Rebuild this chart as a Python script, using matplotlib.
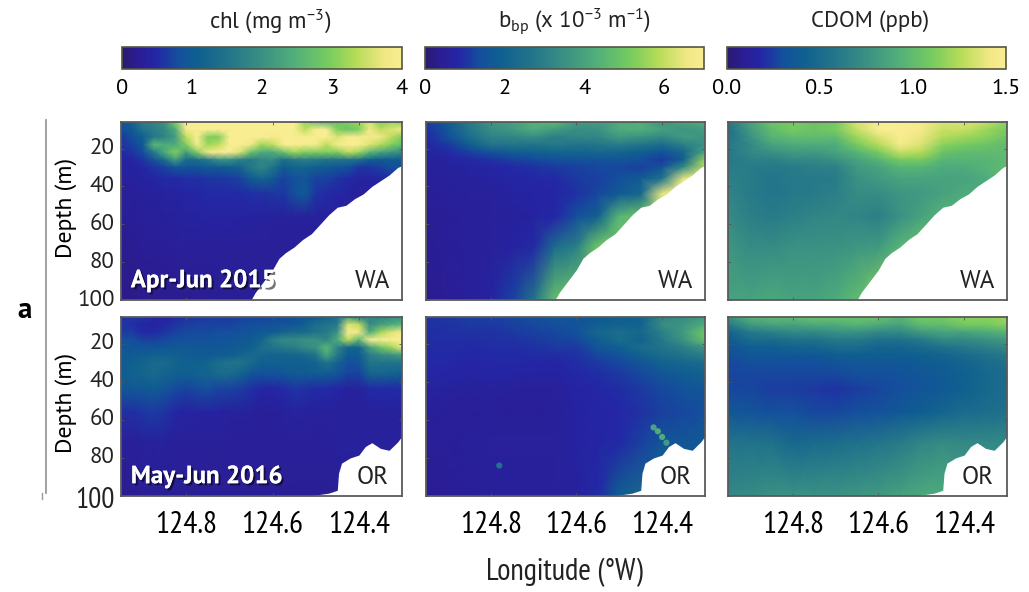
import numpy as np
import matplotlib
matplotlib.use('Agg')
import matplotlib.pyplot as plt
import matplotlib.patheffects as pe
from matplotlib.colors import LinearSegmentedColormap

plt.rcParams['font.family'] = ['PT Sans', 'Open Sans', 'DejaVu Sans']
plt.rcParams['mathtext.fontset'] = 'custom'
plt.rcParams['mathtext.rm'] = 'PT Sans'
plt.rcParams['mathtext.it'] = 'PT Sans'
plt.rcParams['mathtext.bf'] = 'PT Sans:bold'
plt.rcParams['text.color'] = '#222222'
narrow = ['PT Sans Narrow', 'Roboto Condensed', 'Liberation Sans']

# grid of the sections
lon = [124.95, 124.90, 124.85, 124.80, 124.75, 124.70, 124.65,
       124.60, 124.55, 124.50, 124.45, 124.40, 124.35, 124.30]
lon_fine = [124.95, 124.925, 124.90, 124.875, 124.85, 124.825, 124.80, 124.775, 124.75,
            124.725, 124.70, 124.675, 124.65, 124.625, 124.60, 124.575, 124.55, 124.525,
            124.50, 124.475, 124.45, 124.425, 124.40, 124.375, 124.35, 124.325, 124.30]
depth = [6, 10, 14, 18, 22, 26, 30, 36, 44, 56, 72, 100]

chl_wa = [
    [0.8, 1.2, 1.7, 1.8, 2.0, 3.0, 4.0, 4.0, 4.0, 4.0, 4.0, 4.0, 4.0, 4.0, 4.0, 4.0, 4.0, 3.2, 2.8, 2.6, 2.8, 3.0, 3.2, 3.6, 3.0, 3.2, 3.0],
    [0.8, 1.0, 1.5, 1.7, 1.9, 2.4, 3.9, 4.0, 4.0, 4.0, 4.0, 4.0, 4.0, 4.0, 4.0, 4.0, 4.0, 3.4, 4.0, 4.0, 3.0, 2.8, 3.0, 3.8, 3.4, 3.6, 3.8],
    [0.6, 0.8, 1.1, 1.6, 1.8, 2.2, 3.4, 4.0, 3.0, 3.0, 4.0, 4.0, 4.0, 4.0, 3.9, 4.0, 4.0, 4.0, 4.0, 4.0, 3.6, 4.0, 3.9, 3.9, 3.8, 3.4, 3.0],
    [0.6, 0.7, 1.0, 2.6, 2.4, 2.4, 3.0, 3.9, 3.2, 3.4, 4.0, 4.0, 3.8, 3.2, 3.4, 4.0, 4.0, 3.9, 3.9, 3.4, 3.9, 4.0, 4.0, 3.6, 3.3, 3.0, 2.7],
    [0.5, 0.6, 0.8, 1.6, 2.4, 3.0, 2.2, 3.0, 3.8, 4.0, 4.0, 3.6, 2.8, 2.4, 2.4, 2.8, 3.2, 3.0, 3.0, 3.0, 3.0, 3.4, 3.2, 2.6, 2.3, 2.1, 1.9],
    [0.4, 0.45, 0.6, 0.9, 1.4, 2.2, 1.3, 1.4, 1.6, 2.0, 2.0, 1.7, 1.6, 1.8, 1.9, 1.4, 1.6, 1.7, 1.6, 1.5, 1.5, 1.5, 1.4, 1.1, 1.0, 1.0, 1.0],
    [0.35, 0.4, 0.45, 0.6, 0.7, 0.9, 0.9, 0.9, 1.0, 1.0, 1.1, 1.2, 1.6, 1.8, 1.5, 1.0, 1.2, 1.2, 1.1, 1.0, 0.9, 0.8, 0.6, 0.6, 0.7, 0.8, 0.8],
    [0.35, 0.35, 0.4, 0.45, 0.5, 0.5, 0.55, 0.55, 0.6, 0.6, 0.65, 0.7, 1.0, 1.2, 1.0, 0.7, 0.8, 0.9, 0.7, 0.7, 0.6, 0.5, 0.4, 0.4, 0.45, 0.5, 0.5],
    [0.3, 0.3, 0.35, 0.35, 0.4, 0.4, 0.45, 0.45, 0.5, 0.5, 0.5, 0.5, 0.55, 0.55, 0.6, 0.6, 0.8, 1.0, 0.6, 0.5, 0.45, 0.4, 0.35, 0.35, 0.4, 0.4, 0.4],
    [0.25, 0.28, 0.3, 0.32, 0.35, 0.35, 0.4, 0.4, 0.42, 0.42, 0.42, 0.4, 0.4, 0.38, 0.35, 0.35, 0.35, 0.35, 0.35, 0.33, 0.33, 0.33, 0.33, 0.33, 0.33, 0.33, 0.33],
    [0.2, 0.22, 0.25, 0.25, 0.28, 0.3, 0.3, 0.3, 0.3, 0.3, 0.3, 0.3, 0.3, 0.3, 0.3, 0.3, 0.3, 0.3, 0.3, 0.3, 0.3, 0.3, 0.3, 0.3, 0.3, 0.3, 0.3],
    [0.15, 0.15, 0.18, 0.2, 0.2, 0.2, 0.2, 0.22, 0.22, 0.25, 0.25, 0.25, 0.25, 0.25, 0.25, 0.25, 0.25, 0.25, 0.25, 0.25, 0.25, 0.25, 0.25, 0.25, 0.25, 0.25, 0.25],
]
bbp_wa = [
    [1.2, 1.8, 2.8, 3.6, 3.9, 4.4, 4.6, 3.8, 3.8, 4.2, 4.3, 3.6, 4.0, 4.3],
    [1.0, 1.6, 2.7, 3.4, 3.7, 4.2, 3.8, 3.4, 3.5, 4.2, 4.3, 3.9, 3.6, 3.8],
    [0.9, 1.4, 2.4, 3.1, 3.2, 3.4, 3.0, 3.2, 3.2, 3.7, 3.5, 3.3, 3.8, 3.6],
    [0.8, 1.1, 1.9, 2.6, 2.7, 2.6, 2.8, 2.6, 2.7, 2.9, 2.7, 2.4, 3.0, 3.5],
    [0.7, 0.9, 1.2, 1.5, 1.8, 2.0, 2.1, 2.1, 2.2, 2.1, 1.9, 1.5, 2.2, 4.0],
    [0.6, 0.7, 0.9, 1.0, 1.2, 1.3, 1.4, 1.5, 1.5, 1.6, 1.4, 1.1, 2.0, 5.5],
    [0.6, 0.65, 0.75, 0.8, 0.9, 1.0, 1.1, 1.2, 1.3, 1.3, 1.2, 1.6, 3.4, 6.0],
    [0.55, 0.6, 0.65, 0.7, 0.8, 0.85, 0.9, 1.1, 1.2, 1.4, 1.8, 2.6, 6.5, 6.8],
    [0.5, 0.55, 0.6, 0.6, 0.7, 0.75, 0.8, 1.0, 1.3, 1.8, 2.2, 6.5, 7.0, 7.0],
    [0.45, 0.5, 0.55, 0.6, 0.65, 0.7, 0.85, 1.4, 2.0, 4.5, 5.0, 5.0, 5.0, 5.0],
    [0.4, 0.5, 0.55, 0.6, 0.7, 0.9, 2.4, 3.0, 5.0, 5.0, 5.0, 5.0, 5.0, 5.0],
    [0.35, 0.45, 0.55, 0.7, 1.2, 2.6, 4.8, 5.0, 5.0, 5.0, 5.0, 5.0, 5.0, 5.0],
]
cdom_wa = [
    [0.6, 0.85, 1.05, 1.1, 1.05, 1.1, 1.35, 1.5, 1.5, 1.45, 1.35, 1.35, 1.3, 1.15],
    [0.55, 0.8, 1.0, 1.1, 1.05, 1.1, 1.3, 1.5, 1.5, 1.45, 1.3, 1.3, 1.2, 1.1],
    [0.55, 0.75, 0.95, 1.0, 1.0, 1.0, 1.2, 1.35, 1.5, 1.4, 1.25, 1.2, 1.15, 1.05],
    [0.6, 0.7, 0.85, 0.9, 0.9, 0.9, 1.1, 1.25, 1.45, 1.35, 1.15, 1.1, 1.05, 1.0],
    [0.6, 0.7, 0.75, 0.8, 0.8, 0.85, 0.95, 1.1, 1.3, 1.25, 1.05, 1.0, 1.0, 1.0],
    [0.6, 0.65, 0.65, 0.7, 0.7, 0.75, 0.85, 0.95, 1.1, 1.1, 0.95, 0.95, 0.95, 1.0],
    [0.62, 0.62, 0.6, 0.62, 0.65, 0.65, 0.8, 0.85, 0.95, 0.95, 0.9, 0.9, 0.95, 1.0],
    [0.65, 0.62, 0.58, 0.6, 0.6, 0.62, 0.75, 0.8, 0.85, 0.85, 0.85, 0.85, 0.9, 1.0],
    [0.68, 0.62, 0.58, 0.6, 0.62, 0.65, 0.72, 0.72, 0.78, 0.8, 0.85, 0.9, 0.9, 0.9],
    [0.72, 0.65, 0.62, 0.65, 0.68, 0.7, 0.68, 0.65, 0.75, 0.85, 0.95, 0.95, 0.95, 0.95],
    [0.78, 0.72, 0.72, 0.75, 0.75, 0.75, 0.78, 0.8, 0.95, 1.05, 1.05, 1.05, 1.05, 1.05],
    [0.85, 0.85, 0.88, 0.85, 0.85, 0.9, 1.0, 1.15, 1.15, 1.15, 1.15, 1.15, 1.15, 1.15],
]
chl_or = [
    [0.6, 0.6, 0.6, 0.5, 0.4, 0.5, 0.6, 0.6, 0.65, 0.65, 0.65, 0.7, 0.7, 0.7, 0.75, 0.75, 0.8, 0.85, 1.0, 1.2, 1.4, 2.2, 1.6, 1.8, 1.8, 1.9, 2.0],
    [0.6, 0.55, 0.45, 0.4, 0.5, 0.6, 0.65, 0.7, 0.7, 0.7, 0.7, 0.75, 0.8, 0.8, 0.85, 0.85, 0.95, 1.1, 1.4, 1.5, 1.6, 3.6, 3.4, 1.9, 2.2, 2.4, 2.6],
    [0.65, 0.65, 0.5, 0.5, 0.6, 0.7, 0.75, 0.75, 0.75, 0.8, 0.8, 0.85, 0.9, 0.95, 1.0, 1.2, 1.3, 1.3, 1.5, 1.6, 2.0, 4.0, 3.8, 2.4, 3.2, 3.6, 3.9],
    [0.8, 0.8, 0.7, 0.7, 0.75, 0.8, 0.8, 0.85, 0.85, 0.85, 0.9, 0.95, 1.0, 1.2, 1.7, 1.9, 1.9, 2.0, 2.0, 1.8, 2.4, 3.4, 2.6, 3.9, 4.0, 4.0, 4.0],
    [0.9, 0.9, 0.85, 0.9, 0.9, 0.95, 0.95, 0.95, 0.9, 0.95, 0.95, 1.0, 1.1, 1.4, 1.5, 1.6, 1.7, 1.9, 2.0, 2.6, 1.8, 1.2, 1.2, 2.2, 2.8, 3.2, 3.7],
    [0.95, 1.0, 1.05, 1.1, 1.15, 1.1, 1.05, 1.0, 1.0, 1.0, 1.05, 1.2, 1.3, 1.25, 1.2, 1.2, 1.2, 1.3, 1.5, 2.3, 1.6, 1.0, 1.0, 1.7, 1.9, 2.0, 2.2],
    [1.0, 1.1, 1.2, 1.3, 1.3, 1.2, 1.1, 1.1, 1.2, 1.4, 1.5, 1.5, 1.3, 1.1, 1.1, 1.1, 1.1, 1.1, 1.2, 1.5, 1.2, 0.8, 0.9, 1.5, 1.5, 1.5, 1.5],
    [1.05, 1.15, 1.2, 1.3, 1.2, 1.1, 1.1, 1.15, 1.2, 1.3, 1.3, 1.2, 0.9, 0.8, 0.85, 0.9, 1.0, 1.0, 1.0, 1.0, 0.9, 0.7, 0.7, 1.2, 1.2, 1.15, 1.1],
    [0.9, 0.95, 0.95, 1.0, 0.9, 0.75, 0.7, 0.75, 0.8, 0.7, 0.7, 0.65, 0.55, 0.45, 0.45, 0.5, 0.6, 0.55, 0.5, 0.5, 0.45, 0.35, 0.35, 0.5, 0.5, 0.5, 0.5],
    [0.55, 0.55, 0.6, 0.65, 0.6, 0.45, 0.4, 0.4, 0.4, 0.4, 0.35, 0.35, 0.35, 0.3, 0.3, 0.35, 0.38, 0.38, 0.35, 0.35, 0.35, 0.35, 0.35, 0.35, 0.35, 0.35, 0.35],
    [0.3, 0.3, 0.35, 0.35, 0.35, 0.3, 0.3, 0.3, 0.3, 0.3, 0.3, 0.3, 0.3, 0.3, 0.3, 0.3, 0.3, 0.3, 0.3, 0.3, 0.35, 0.35, 0.35, 0.35, 0.35, 0.35, 0.35],
    [0.2, 0.22, 0.25, 0.25, 0.25, 0.25, 0.25, 0.25, 0.25, 0.25, 0.25, 0.25, 0.25, 0.25, 0.25, 0.25, 0.25, 0.25, 0.25, 0.25, 0.3, 0.3, 0.3, 0.3, 0.3, 0.3, 0.3],
]
bbp_or = [
    [1.0, 1.1, 1.2, 1.2, 1.3, 1.4, 1.5, 1.5, 1.7, 1.9, 2.0, 3.2, 3.4, 3.8],
    [1.0, 1.0, 1.1, 1.1, 1.2, 1.3, 1.4, 1.5, 1.9, 2.0, 2.0, 3.4, 3.6, 4.2],
    [0.95, 1.0, 1.0, 1.0, 1.1, 1.2, 1.3, 1.4, 2.2, 2.4, 2.2, 3.0, 3.8, 5.0],
    [0.95, 0.95, 0.95, 1.0, 1.0, 1.1, 1.2, 1.3, 1.9, 2.4, 2.0, 2.8, 3.6, 4.8],
    [0.9, 0.95, 0.9, 0.95, 0.95, 1.0, 1.1, 1.1, 1.6, 1.9, 2.4, 2.6, 3.0, 3.6],
    [0.9, 0.9, 0.85, 0.9, 0.9, 0.95, 0.95, 1.0, 1.3, 1.5, 2.0, 2.4, 2.6, 3.0],
    [0.85, 0.85, 0.8, 0.85, 0.85, 0.8, 0.8, 0.95, 1.1, 1.3, 1.6, 2.0, 2.2, 2.4],
    [0.85, 0.8, 0.75, 0.8, 0.75, 0.7, 0.7, 0.85, 0.95, 1.1, 1.3, 1.6, 1.8, 2.0],
    [0.7, 0.65, 0.6, 0.65, 0.6, 0.55, 0.6, 0.75, 0.85, 0.95, 1.1, 1.3, 1.5, 1.6],
    [0.55, 0.5, 0.5, 0.55, 0.5, 0.5, 0.55, 0.7, 0.8, 0.85, 1.0, 1.2, 1.3, 1.4],
    [0.5, 0.5, 0.55, 0.6, 0.6, 0.6, 0.6, 0.7, 0.8, 0.9, 1.2, 1.6, 1.6, 1.7],
    [0.4, 0.45, 0.5, 0.55, 0.55, 0.55, 0.6, 0.65, 0.9, 1.9, 2.2, 2.2, 2.2, 2.2],
]
cdom_or = [
    [0.75, 0.95, 1.0, 1.0, 1.05, 1.05, 1.05, 1.05, 0.95, 1.1, 1.1, 1.15, 1.15, 1.2],
    [0.6, 0.8, 0.85, 0.85, 0.9, 0.9, 0.95, 0.9, 0.85, 1.0, 1.0, 1.1, 1.1, 1.15],
    [0.45, 0.6, 0.65, 0.7, 0.7, 0.75, 0.75, 0.7, 0.7, 0.8, 0.85, 0.85, 0.9, 0.95],
    [0.38, 0.5, 0.5, 0.55, 0.55, 0.6, 0.6, 0.55, 0.55, 0.6, 0.7, 0.7, 0.75, 0.8],
    [0.33, 0.4, 0.4, 0.45, 0.45, 0.5, 0.5, 0.45, 0.45, 0.5, 0.55, 0.6, 0.65, 0.7],
    [0.3, 0.35, 0.35, 0.35, 0.35, 0.4, 0.4, 0.4, 0.4, 0.42, 0.45, 0.5, 0.55, 0.6],
    [0.28, 0.3, 0.3, 0.3, 0.3, 0.33, 0.35, 0.35, 0.35, 0.38, 0.4, 0.45, 0.5, 0.55],
    [0.27, 0.27, 0.27, 0.27, 0.27, 0.28, 0.3, 0.3, 0.32, 0.35, 0.38, 0.42, 0.48, 0.52],
    [0.28, 0.27, 0.25, 0.25, 0.24, 0.22, 0.25, 0.27, 0.3, 0.33, 0.37, 0.42, 0.48, 0.52],
    [0.36, 0.33, 0.3, 0.3, 0.28, 0.28, 0.3, 0.32, 0.36, 0.4, 0.45, 0.5, 0.52, 0.55],
    [0.56, 0.56, 0.55, 0.48, 0.5, 0.52, 0.55, 0.58, 0.62, 0.68, 0.72, 0.7, 0.7, 0.7],
    [0.7, 0.72, 0.75, 0.75, 0.75, 0.76, 0.78, 0.8, 0.84, 0.88, 0.9, 0.85, 0.85, 0.85],
]

# sea floor under each section
floor_lon_wa = [124.65, 124.64, 124.62, 124.60, 124.585, 124.57, 124.55, 124.53, 124.51,
                124.49, 124.47, 124.45, 124.43, 124.41, 124.39, 124.37, 124.35, 124.33,
                124.31, 124.30]
floor_wa = [100, 96, 90, 84, 78, 75, 72, 68, 65, 60, 55, 51, 50, 46.5, 44, 40, 37, 34, 30, 29]
floor_lon_or = [124.515, 124.47, 124.45, 124.447, 124.44, 124.42, 124.40, 124.385, 124.37,
                124.35, 124.33, 124.31, 124.30]
floor_or = [100, 98.5, 97, 88, 82.7, 80, 78.5, 74, 72, 75, 76, 71.6, 68.5]

# odd patches in the Oregon backscatter section
spot_lon = [124.78, 124.42, 124.41, 124.40, 124.39]
spot_depth = [84, 64, 66, 69, 72]
spot_val = [2.6, 4.0, 4.2, 4.2, 3.8]

xticks = [124.8, 124.6, 124.4]
xticklabels = ['124.8', '124.6', '124.4']
yticks = [20, 40, 60, 80, 100]
chl_ticks = [0, 1, 2, 3, 4]
bbp_ticks = [0, 2, 4, 6]
cdom_ticks = [0.0, 0.5, 1.0, 1.5]

cmap = LinearSegmentedColormap.from_list('sea', [
    (0.0, '#2b1a70'), (0.05, '#2b1c92'), (0.12, '#2426a6'), (0.2, '#14509c'), (0.27, '#0f5f90'),
    (0.38, '#22748a'), (0.5, '#3a9083'), (0.62, '#52b07a'), (0.74, '#78cc5e'), (0.84, '#b8dc58'),
    (0.94, '#f0e785'), (1.0, '#f9ed91')])

W, H = 1029, 592
fig = plt.figure(figsize=(W / 100, H / 100), dpi=100)


def px_axes(left, top, right, bottom):
    return fig.add_axes([left / W, 1 - bottom / H, (right - left) / W, (bottom - top) / H])


def section(ax, grid_lon, values, vmax, floor_lon, floor):
    m = ax.pcolormesh(grid_lon, depth, np.array(values), cmap=cmap, vmin=0, vmax=vmax,
                      shading='gouraud', rasterized=True)
    ax.fill_between(floor_lon, floor, 101, color='white', lw=0, zorder=3)
    ax.set_xlim(124.951, 124.30)
    ax.set_ylim(100, 6)
    ax.set_xticks(xticks)
    ax.set_yticks(yticks)
    ax.tick_params(direction='in', length=2, width=0.6, top=True, right=True, color='#555555',
                   labelbottom=False, labelleft=False, zorder=5)
    for s in ax.spines.values():
        s.set_color('#5a5a5a')
        s.set_linewidth(1.3)
        s.set_zorder(6)
    return m


columns = [(121, 402), (426, 705), (728, 1007)]
rows = [(122, 300), (317, 496)]
row_data = [
    [(lon_fine, chl_wa, 4), (lon, bbp_wa, 7), (lon, cdom_wa, 1.5)],
    [(lon_fine, chl_or, 4), (lon, bbp_or, 7), (lon, cdom_or, 1.5)],
]
floors = [(floor_lon_wa, floor_wa, 'WA'), (floor_lon_or, floor_or, 'OR')]
labels = ['Apr-Jun 2015', 'May-Jun 2016']
meshes = []
for r, (top, bottom) in enumerate(rows):
    for c, (left, right) in enumerate(columns):
        ax = px_axes(left, top, right, bottom)
        grid_lon, vals, vmax = row_data[r][c]
        m = section(ax, grid_lon, vals, vmax, floors[r][0], floors[r][1])
        if r == 0:
            meshes.append(m)
        ax.text(0.895, 0.105, floors[r][2], transform=ax.transAxes, ha='center', va='center',
                fontsize=18, zorder=7)
        if c == 1 and r == 1:
            ax.scatter(spot_lon, spot_depth, c=spot_val, cmap=cmap, vmin=0, vmax=7, s=20, lw=0, zorder=2)
        if c == 0:
            ax.set_ylabel('Depth (m)', fontsize=17)
            ax.yaxis.set_label_coords(-0.157, 0.52)
            for y in yticks:
                if y == 100 and r == 1:
                    continue
                ax.text(-0.023, y, str(y), transform=ax.get_yaxis_transform(), ha='right',
                        va='center', fontsize=16.5)
            ax.text(0.035, 0.108, labels[r], transform=ax.transAxes, color='white', fontweight='bold',
                    fontsize=18, va='center', ha='left', zorder=7,
                    path_effects=[pe.withSimplePatchShadow(offset=(1.5, -1.5), shadow_rgbFace='k', alpha=0.55),
                                  pe.Normal()])
        if r == 1:
            ax.set_xticklabels(xticklabels, family=narrow)
            ax.tick_params(labelbottom=True, labelsize=22.5, pad=11)

# colour bars
titles = ['chl (mg m$^{-3}$)', r'b$_{\mathrm{bp}}$ (x 10$^{-3}$ m$^{-1}$)', 'CDOM (ppb)']
title_x = [270, 574, 870]
ticks = [chl_ticks, bbp_ticks, cdom_ticks]
ticklabels = [['0', '1', '2', '3', '4'], ['0', '2', '4', '6'], ['0.0', '0.5', '1.0', '1.5']]
for c, (left, right) in enumerate([(122, 402), (425, 704), (727, 1006)]):
    cax = px_axes(left, 47, right, 69)
    cb = fig.colorbar(meshes[c], cax=cax, orientation='horizontal')
    cb.set_ticks(ticks[c])
    cb.set_ticklabels(ticklabels[c])
    cb.ax.tick_params(labelsize=16, length=0, pad=7)
    cb.outline.set_edgecolor('#55553f')
    cb.outline.set_linewidth(1.2)
    fig.text(title_x[c] / W, 1 - 21 / H, titles[c], ha='center', va='center', fontsize=16.5)

fig.text(564 / W, 1 - 572 / H, 'Longitude (\u00b0W)', ha='center', va='center', fontsize=22, family=narrow)
fig.text(115 / W, 1 - 501 / H, '100', ha='right', va='center', fontsize=21, family=narrow)
fig.text(25 / W, 1 - 311 / H, 'a', ha='center', va='center', fontsize=21, fontweight='bold', color='black')
fig.add_artist(plt.Line2D([46 / W, 46 / W], [1 - 120 / H, 1 - 493 / H], color='#9a9a9a', lw=1.3))
fig.add_artist(plt.Line2D([42 / W, 42 / W], [1 - 493 / H, 1 - 499 / H], color='#9a9a9a', lw=1.0))

fig.savefig('out.png', dpi=100)
